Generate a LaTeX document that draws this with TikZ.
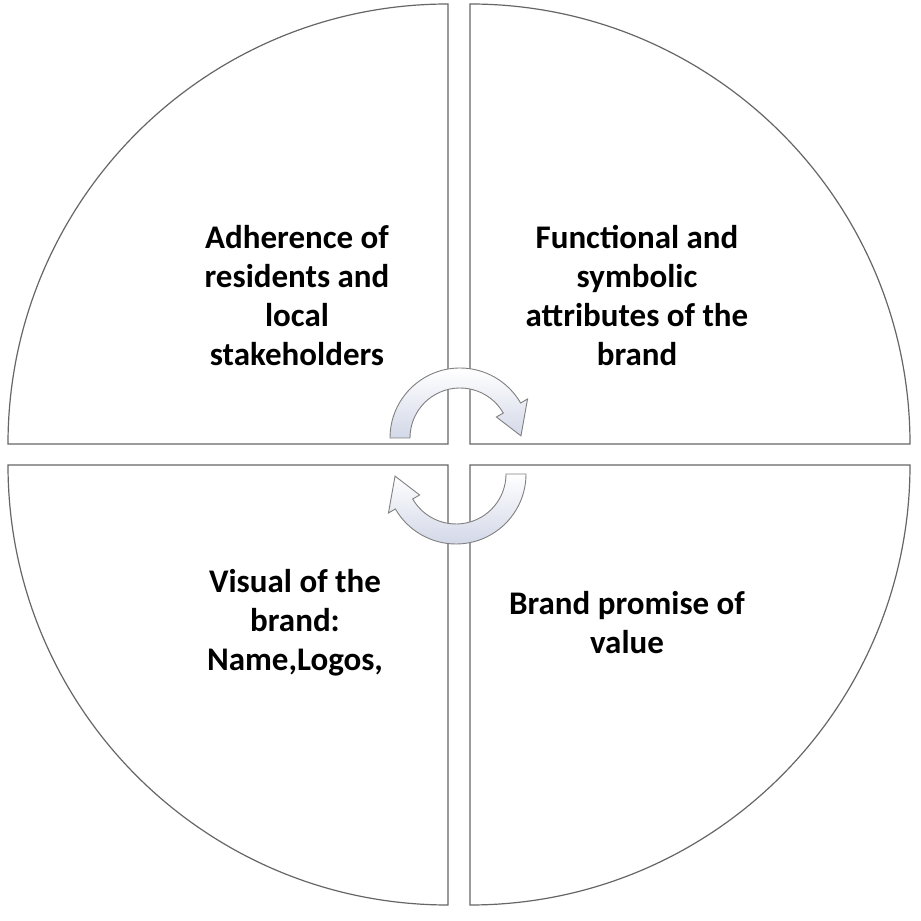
\documentclass[tikz,border=0pt]{standalone}
\usepackage{fontspec}
\setmainfont{Carlito}
\usetikzlibrary{calc}
\definecolor{arrfill}{HTML}{D3D8E8}
\begin{document}
\begin{tikzpicture}[x=1pt,y=1pt,
  quad/.style={draw=black!60,line width=1.2pt,fill=white},
  arr/.style={draw=black!50,line width=0.9pt,top color=white,bottom color=arrfill},
  lbl/.style={font=\bfseries\fontsize{33}{39}\selectfont,align=center}]
\useasboundingbox (0,0) rectangle (921,921);
\fill[white] (0,0) rectangle (921,921);
% quadrants
\draw[quad] (448,477) -- (8,477) arc[start angle=180,end angle=90,radius=440] -- cycle;
\draw[quad] (470,477) -- (470,917) arc[start angle=90,end angle=0,radius=440] -- cycle;
\draw[quad] (448,456) -- (448,16) arc[start angle=270,end angle=180,radius=440] -- cycle;
\draw[quad] (470,456) -- (910,456) arc[start angle=0,end angle=-90,radius=440] -- cycle;
\coordinate (c1) at (460,483);
\coordinate (c2) at (456,447);
% top arrow
\draw[arr] ($(c1)+(180:70)$) arc[start angle=180,end angle=30,radius=70]
  -- ($(c1)+(30:78)$) -- ($(c1)+(2:61)$) -- ($(c1)+(30:42)$)
  -- ($(c1)+(30:50)$) arc[start angle=30,end angle=180,radius=50] -- cycle;
% bottom arrow
\draw[arr] ($(c2)+(0:70)$) arc[start angle=0,end angle=-150,radius=70]
  -- ($(c2)+(210:78)$) -- ($(c2)+(182:61)$) -- ($(c2)+(210:42)$)
  -- ($(c2)+(210:50)$) arc[start angle=-150,end angle=0,radius=50] -- cycle;
\node[lbl] (t1) at (297,625) {Adherence of\\residents and\\local\\stakeholders};
\node[lbl] (t2) at (637,625) {Functional and\\symbolic\\attributes of the\\brand};
\node[lbl] (t3) at (295,298) {Visual of the\\brand:\\Name,Logos,};
\node[lbl] (t4) at (627,298) {Brand promise of\\value};
\end{tikzpicture}
\end{document}
